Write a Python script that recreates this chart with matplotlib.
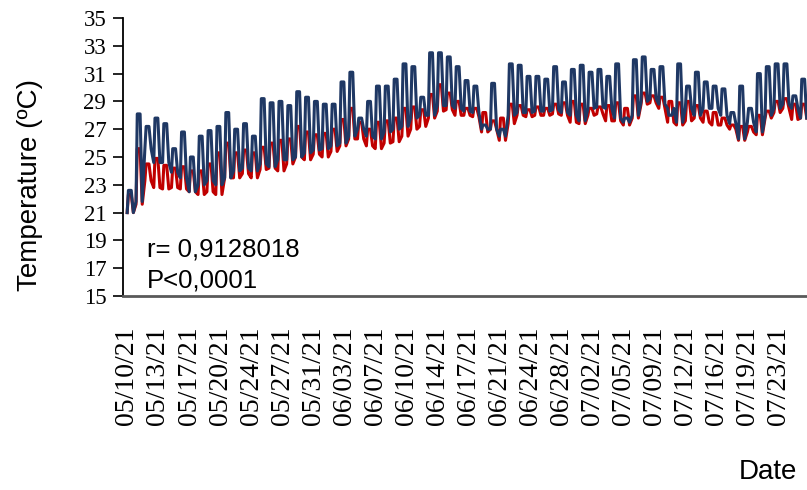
import matplotlib
matplotlib.use("Agg")
import matplotlib.pyplot as plt

# Daily extremes (°C), one entry per day starting 05/10/21
blue_hi = [22.6, 28.1, 27.2, 27.8, 27.4, 25.6, 26.8, 25.0, 26.5, 26.9,
           27.2, 28.2, 27.0, 27.4, 26.5, 29.2, 28.9, 29.0, 28.7, 29.7,
           29.3, 29.0, 28.8, 28.8, 30.4, 31.1, 27.8, 29.0, 30.1, 30.1,
           30.6, 31.7, 31.5, 29.3, 32.5, 32.5, 32.2, 31.5, 30.5, 30.1,
           27.3, 30.3, 27.0, 31.7, 31.6, 30.8, 30.8, 30.6, 31.5, 30.4,
           31.3, 31.6, 31.1, 31.3, 30.8, 31.7, 27.8, 32.0, 32.2, 31.3,
           31.5, 28.0, 31.7, 30.1, 31.1, 30.4, 30.1, 29.9, 28.2, 30.1,
           28.5, 31.0, 31.5, 31.7, 31.7, 29.4, 30.6]
blue_lo = [21.0, 21.8, 25.6, 24.6, 24.6, 23.9, 23.5, 22.5, 23.0, 23.3,
           23.0, 23.5, 24.0, 24.2, 24.0, 24.5, 24.3, 24.8, 24.8, 25.0,
           25.3, 25.5, 25.6, 25.8, 26.0, 26.5, 27.0, 26.5, 26.3, 26.8,
           27.0, 27.2, 27.8, 28.0, 28.0, 28.7, 28.7, 28.5, 28.3, 28.2,
           27.0, 27.0, 26.5, 28.0, 28.2, 28.2, 28.3, 28.3, 28.4, 28.2,
           28.0, 27.6, 28.5, 28.6, 28.5, 27.8, 27.5, 28.0, 29.0, 29.2,
           28.8, 28.5, 27.5, 28.5, 28.0, 28.5, 28.5, 28.0, 27.4, 26.3,
           27.5, 26.8, 28.0, 28.5, 28.8, 28.5, 27.8]
red_hi = [22.3, 25.6, 24.5, 24.9, 24.4, 24.2, 24.3, 24.0, 24.0, 24.5,
          25.3, 26.0, 25.3, 25.5, 25.3, 25.7, 26.0, 26.2, 26.3, 27.2,
          26.8, 26.6, 26.7, 27.0, 27.7, 28.5, 27.5, 27.0, 27.5, 27.6,
          27.8, 28.5, 28.6, 28.4, 29.5, 30.2, 29.6, 29.0, 28.5, 28.5,
          28.2, 27.6, 27.8, 28.8, 28.7, 28.4, 28.6, 28.5, 28.8, 28.9,
          29.0, 28.8, 28.5, 28.6, 28.7, 28.9, 28.5, 29.4, 29.6, 29.4,
          29.3, 29.0, 28.9, 29.0, 28.7, 28.3, 28.2, 27.8, 27.3, 27.2,
          27.2, 28.0, 28.3, 29.0, 29.2, 28.8, 28.8]
red_lo = [21.0, 21.6, 23.3, 22.8, 22.7, 22.8, 22.7, 22.5, 22.3, 22.5,
          22.3, 23.5, 23.5, 23.8, 23.5, 24.1, 24.2, 24.0, 24.5, 25.0,
          24.8, 25.2, 25.0, 25.4, 25.8, 26.3, 26.3, 25.8, 25.6, 26.0,
          26.1, 26.5, 27.0, 27.2, 27.8, 28.3, 28.4, 28.0, 28.0, 27.9,
          26.8, 27.0, 26.2, 27.4, 28.0, 27.9, 28.0, 28.0, 28.1, 28.0,
          27.5, 27.4, 28.0, 28.1, 27.6, 27.6, 27.3, 27.8, 28.8, 28.9,
          28.5, 27.5, 27.3, 27.6, 27.8, 27.5, 27.3, 27.3, 27.0, 26.2,
          26.8, 26.6, 27.8, 28.2, 28.5, 27.7, 27.8]

date_labels = ['05/10/21', '05/13/21', '05/17/21', '05/20/21', '05/24/21',
               '05/27/21', '05/31/21', '06/03/21', '06/07/21', '06/10/21',
               '06/14/21', '06/17/21', '06/21/21', '06/24/21', '06/28/21',
               '07/02/21', '07/05/21', '07/09/21', '07/12/21', '07/16/21',
               '07/19/21', '07/23/21']
label_step_days = 3.5

r_text = "r= 0,9128018"
p_text = "P<0,0001"


def daily_trace(hi, lo):
    """Night low, quick morning rise, daytime plateau, evening decline."""
    xs, ys = [], []
    for d, (h, l) in enumerate(zip(hi, lo)):
        xs += [d + 0.02, d + 0.16, d + 0.48, d + 0.72]
        ys += [l, h, h, l]
    return xs, ys


fig = plt.figure(figsize=(8.07, 4.90), dpi=100)
ax = fig.add_axes([123 / 807, 1 - 296 / 490, 1 - 123 / 807, (296 - 18) / 490])

xr, yr = daily_trace(red_hi, red_lo)
xb, yb = daily_trace(blue_hi, blue_lo)
ax.plot(xr, yr, color='#C00000', lw=2.2, solid_joinstyle='round', zorder=2)
ax.plot(xb, yb, color='#1F3864', lw=2.2, solid_joinstyle='round', zorder=3)

ax.set_xlim(-0.45, 76.75)
ax.set_ylim(15, 35)
ax.set_yticks(range(15, 36, 2))
ax.set_xticks([k * label_step_days for k in range(len(date_labels))])
ax.set_xticklabels(date_labels, rotation=90, fontfamily='Liberation Serif', fontsize=20)
for t in ax.get_yticklabels():
    t.set_fontfamily('Liberation Serif')
    t.set_fontsize(16.5)

ax.tick_params(axis='y', direction='out', length=7, width=1.2, pad=5, color='black')
ax.tick_params(axis='x', length=0, pad=22)

for s in ['top', 'right']:
    ax.spines[s].set_visible(False)
ax.spines['left'].set_color('black')
ax.spines['left'].set_linewidth(1.3)
ax.spines['bottom'].set_color('#595959')
ax.spines['bottom'].set_linewidth(2.0)

fig.text(30 / 807, 1 - 185 / 490, 'Temperature (ºC)', rotation=90,
         ha='center', va='center', fontfamily='Liberation Sans', fontsize=20)
fig.text(797 / 807, 1 - 472 / 490, 'Date', ha='right', va='center',
         fontfamily='Liberation Sans', fontsize=20)

ax.text(147 / 807, 1 - 257 / 490, r_text, transform=fig.transFigure,
        ha='left', va='baseline', fontfamily='Liberation Sans', fontsize=18.5)
ax.text(147 / 807, 1 - 287 / 490, p_text, transform=fig.transFigure,
        ha='left', va='baseline', fontfamily='Liberation Sans', fontsize=18.5)

fig.savefig('out.png', dpi=100)
